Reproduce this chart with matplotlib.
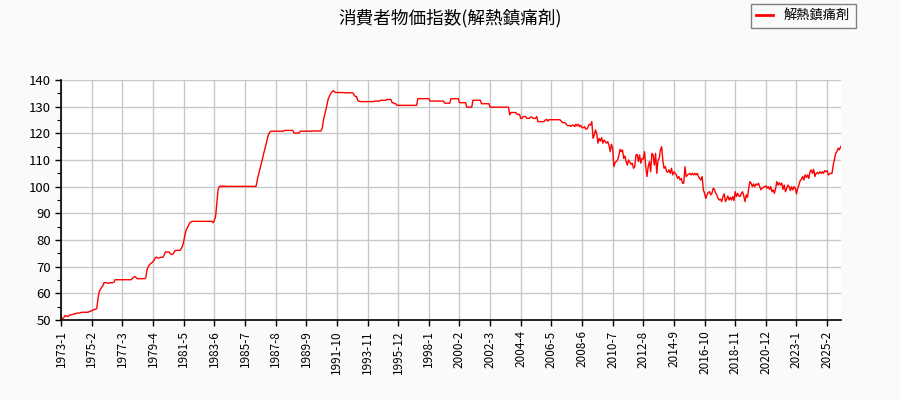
import numpy as np
import matplotlib.pyplot as plt
from matplotlib.ticker import MultipleLocator

plt.rcParams['font.family'] = ['Noto Sans CJK JP', 'DejaVu Sans']

title = '消費者物価指数(解熱鎮痛剤)'
series_name = '解熱鎮痛剤'

# monthly index values, starting 1973-1
cpi_1970s = [
    50.6, 50.6, 50.8, 51.6, 51.6, 51.3, 51.5, 51.9, 51.9, 52.0, 52.2, 52.3,
    52.4, 52.6, 52.6, 52.6, 52.8, 52.9, 52.9, 52.9, 52.9, 52.9, 52.9, 53.2,
    53.3, 53.5, 53.7, 54.0, 54.0, 54.3, 58.0, 60.6, 61.5, 62.3, 62.8, 64.0,
    64.0, 64.0, 63.8, 63.8, 64.0, 64.0, 64.0, 64.1, 65.1, 65.1, 65.1, 65.1,
    65.1, 65.1, 65.1, 65.1, 65.1, 65.1, 65.1, 65.1, 65.1, 65.1, 65.5, 66.0,
    66.3, 66.0, 65.5, 65.5, 65.5, 65.5, 65.5, 65.5, 65.5, 65.8, 68.8, 70.0,
    70.6, 71.2, 71.5, 72.0, 72.5, 73.5, 73.5, 73.2, 73.3, 73.5, 73.5, 73.5,
]
cpi_1980s = [
    74.3, 75.5, 75.5, 75.5, 75.5, 74.8, 74.6, 74.6, 75.3, 76.1, 76.1, 76.1,
    76.1, 76.1, 76.8, 77.8, 79.5, 81.9, 83.8, 84.6, 85.6, 86.5, 86.8, 87.0,
    87.0, 87.0, 87.0, 87.0, 87.0, 87.0, 87.0, 87.0, 87.0, 87.0, 87.0, 87.0,
    87.0, 87.0, 87.0, 87.0, 86.5, 87.5, 88.8, 93.8, 98.8, 100.0, 100.3, 99.9,
    100.3, 100.0, 100.3, 100.0, 100.1, 100.1, 100.1, 100.1, 100.1, 100.1, 100.1, 100.1,
    100.1, 100.1, 100.1, 100.1, 100.1, 100.1, 100.1, 100.1, 100.1, 100.1, 100.1, 100.1,
    100.1, 100.1, 100.1, 100.1, 102.5, 104.5, 106.3, 108.0, 110.0, 112.0, 113.8, 115.5,
    117.5, 119.4, 120.3, 120.8, 120.8, 120.8, 120.8, 120.8, 120.8, 120.8, 120.8, 120.8,
    120.8, 120.8, 121.0, 121.1, 121.1, 121.1, 121.1, 121.1, 121.1, 121.1, 120.1, 120.1,
    120.1, 120.1, 120.1, 120.8, 120.8, 120.8, 120.8, 120.8, 120.8, 120.8, 120.8, 120.8,
]
cpi_1990s = [
    120.8, 120.9, 120.9, 120.9, 120.9, 120.9, 120.9, 120.9, 120.9, 121.9, 125.0, 127.0,
    128.8, 131.0, 133.1, 134.0, 135.0, 135.6, 136.0, 135.6, 135.3, 135.3, 135.3, 135.3,
    135.3, 135.3, 135.3, 135.2, 135.2, 135.2, 135.2, 135.2, 135.2, 135.2, 135.2, 134.4,
    133.8, 133.8, 132.3, 132.0, 131.9, 131.9, 131.9, 131.9, 131.9, 131.9, 131.9, 131.9,
    131.9, 131.9, 131.9, 131.9, 132.1, 132.1, 132.1, 132.1, 132.1, 132.4, 132.4, 132.4,
    132.4, 132.4, 132.7, 132.7, 132.7, 132.7, 131.5, 131.5, 131.1, 131.1, 130.5, 130.5,
    130.5, 130.5, 130.5, 130.5, 130.5, 130.5, 130.5, 130.5, 130.5, 130.5, 130.5, 130.5,
    130.5, 130.5, 130.5, 133.0, 133.0, 133.0, 133.0, 133.0, 133.0, 133.0, 133.0, 133.0,
    133.0, 132.1, 132.1, 132.1, 132.1, 132.1, 132.1, 132.1, 132.1, 132.1, 132.1, 132.1,
    132.1, 131.3, 131.3, 131.3, 131.3, 131.3, 133.0, 133.0, 133.0, 133.0, 133.0, 133.0,
]
cpi_2000s = [
    133.0, 131.5, 131.5, 131.5, 131.5, 131.5, 131.5, 129.8, 129.8, 129.8, 129.8, 129.8,
    132.4, 132.4, 132.4, 132.4, 132.4, 132.4, 132.4, 131.1, 131.1, 131.1, 131.1, 131.1,
    131.1, 131.1, 129.8, 129.8, 129.8, 129.8, 129.8, 129.8, 129.8, 129.8, 129.8, 129.8,
    129.8, 129.8, 129.8, 129.8, 129.8, 129.8, 126.9, 127.8, 127.8, 127.8, 127.8, 127.8,
    127.1, 127.1, 127.1, 125.6, 125.6, 126.3, 126.3, 126.3, 125.6, 125.6, 125.6, 126.1,
    126.1, 125.6, 125.6, 125.6, 126.3, 124.4, 124.4, 124.4, 124.4, 124.4, 124.4, 124.9,
    125.3, 124.6, 125.1, 125.1, 125.1, 125.1, 125.1, 125.1, 125.1, 125.1, 125.1, 125.1,
    124.6, 124.0, 124.0, 124.0, 123.5, 122.9, 122.9, 122.9, 122.6, 123.1, 123.1, 122.5,
    123.4, 122.8, 123.4, 122.5, 123.0, 122.1, 122.1, 122.5, 121.6, 121.6, 122.5, 123.4,
    123.1, 124.4, 118.1, 119.4, 121.3, 119.9, 116.3, 118.1, 117.1, 118.4, 116.3, 117.5,
]
cpi_2010s = [
    116.9, 116.3, 116.9, 115.6, 113.1, 115.9, 114.4, 107.5, 109.1, 109.4, 110.0, 111.5,
    114.0, 113.1, 113.8, 110.6, 111.5, 109.4, 108.1, 110.0, 109.2, 108.4, 108.8, 106.9,
    107.5, 111.9, 112.1, 109.4, 111.9, 108.8, 110.6, 110.4, 113.1, 107.5, 103.8, 107.5,
    109.4, 105.6, 112.5, 111.9, 108.1, 112.5, 105.0, 110.0, 110.6, 113.8, 115.0, 109.4,
    106.9, 107.5, 105.6, 105.4, 106.3, 105.0, 106.9, 104.4, 105.6, 105.0, 104.4, 103.1,
    103.8, 102.5, 103.1, 101.3, 101.3, 107.5, 103.8, 104.4, 104.6, 105.0, 104.4, 105.0,
    104.4, 105.0, 104.4, 105.0, 103.8, 103.1, 102.5, 103.8, 98.8, 97.5, 95.6, 96.9,
    97.9, 98.1, 96.9, 97.5, 99.4, 99.0, 97.5, 96.9, 95.6, 95.0, 95.3, 94.4,
    96.3, 97.3, 94.4, 95.3, 96.5, 95.0, 96.0, 95.0, 96.3, 94.8, 98.1, 96.3,
    97.5, 96.5, 96.3, 97.5, 98.1, 96.5, 94.4, 96.9, 96.0, 99.4, 101.9, 101.3,
]
cpi_2020s = [
    100.0, 101.0, 100.0, 101.0, 100.6, 101.3, 100.0, 98.8, 99.4, 99.8, 100.0, 100.3,
    99.4, 100.0, 99.0, 100.0, 98.1, 98.8, 97.5, 99.4, 101.9, 100.6, 101.5, 100.6,
    101.3, 99.0, 100.6, 98.1, 99.4, 100.6, 100.0, 98.5, 100.0, 98.8, 100.0, 99.4,
    97.3, 99.4, 100.6, 102.3, 102.8, 103.8, 102.5, 104.4, 103.5, 104.4, 103.1, 105.6,
    106.3, 105.0, 106.5, 103.8, 105.0, 105.3, 104.8, 105.6, 105.0, 105.6, 105.0, 106.0,
    105.6, 106.0, 104.4, 104.8, 105.0, 105.0, 108.1, 110.3, 112.5, 113.1, 114.4, 113.8,
    115.0,
]

tick_labels = ['1973-1', '1975-2', '1977-3', '1979-4', '1981-5', '1983-6', '1985-7',
               '1987-8', '1989-9', '1991-10', '1993-11', '1995-12', '1998-1', '2000-2',
               '2002-3', '2004-4', '2006-5', '2008-6', '2010-7', '2012-8', '2014-9',
               '2016-10', '2018-11', '2020-12', '2023-1', '2025-2']

values = np.array(cpi_1970s + cpi_1980s + cpi_1990s + cpi_2000s + cpi_2010s + cpi_2020s)
x = np.arange(len(values))

fig = plt.figure(figsize=(9, 4), dpi=100, facecolor='#fafafa')
ax = fig.add_axes([0.068, 0.2, 0.866, 0.6])
ax.set_facecolor('white')

ax.plot(x, values, color='red', linewidth=1.0, label=series_name)

ax.set_xlim(0, len(values) - 1)
ax.set_ylim(50, 140)
ax.set_xticks(np.arange(0, len(values), 25)[:len(tick_labels)])
ax.set_xticklabels(tick_labels, rotation=90, fontsize=8.5)
ax.yaxis.set_major_locator(MultipleLocator(10))
ax.yaxis.set_minor_locator(MultipleLocator(5))
ax.tick_params(axis='y', labelsize=9.5)
ax.tick_params(which='major', length=4, width=1, color='black')
ax.tick_params(which='minor', length=3, width=0.8, color='black')
ax.grid(True, color='#c8c8c8', linewidth=1)
ax.set_axisbelow(True)

for side in ['top', 'right']:
    ax.spines[side].set_visible(False)
for side in ['left', 'bottom']:
    ax.spines[side].set_linewidth(1.2)

fig.text(0.5, 0.955, title, ha='center', va='center', fontsize=12.7)
leg = fig.legend(loc='upper right', bbox_to_anchor=(0.9506, 0.99), fontsize=9.5,
                 fancybox=False, edgecolor='#808080', facecolor='#fafafa',
                 framealpha=1, borderaxespad=0, handlelength=1.3,
                 handletextpad=0.8, borderpad=0.4)
leg.get_frame().set_linewidth(1)
for line in leg.get_lines():
    line.set_linewidth(2)

fig.savefig('out.png', dpi=100, facecolor=fig.get_facecolor())
